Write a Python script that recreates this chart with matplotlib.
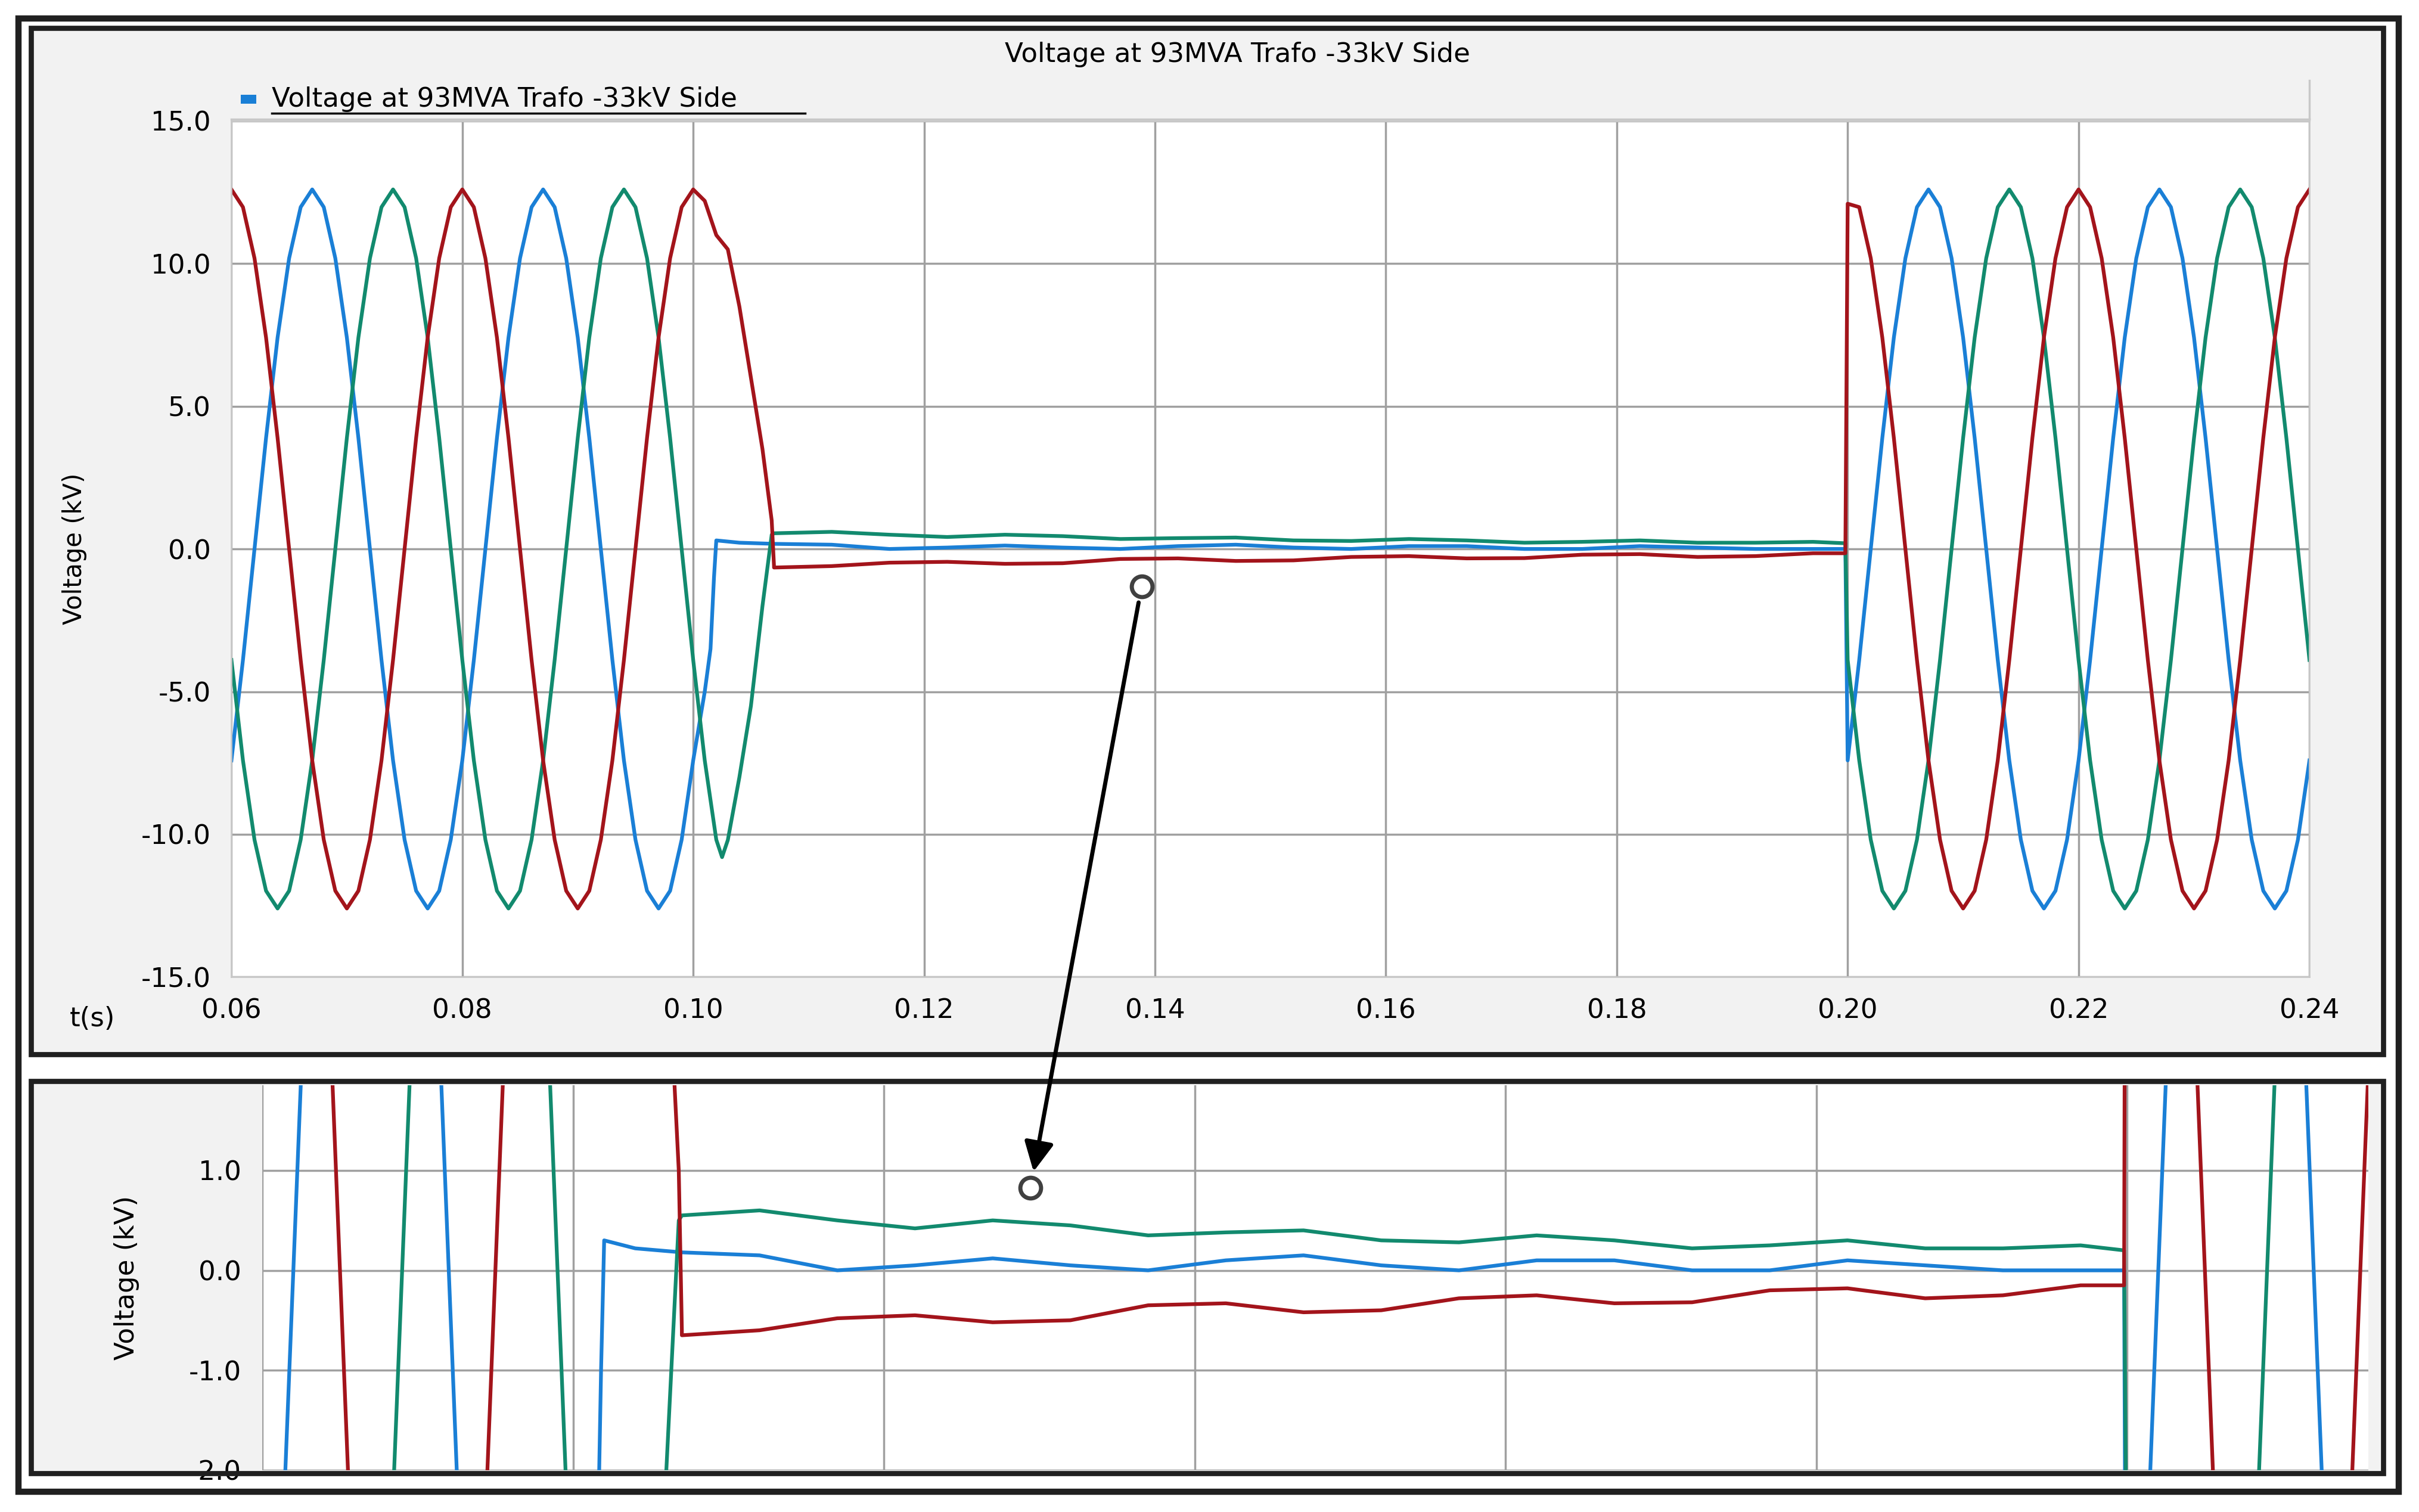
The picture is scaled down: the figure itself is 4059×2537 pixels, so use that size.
import numpy as np
import matplotlib
matplotlib.use('Agg')
from matplotlib import pyplot as plt
from matplotlib.patches import Rectangle, FancyArrowPatch

# waveform samples, 1 ms apart
t_grid = np.round(np.arange(0, 41) * 0.001, 4)

blue_pre = [-7.41, -3.89, 0, 3.89, 7.41, 10.19, 11.98, 12.6, 11.98, 10.19, 7.41, 3.89, 0, -3.89,
            -7.41, -10.19, -11.98, -12.6, -11.98, -10.19, -7.41, -3.89, 0, 3.89, 7.41, 10.19, 11.98,
            12.6, 11.98, 10.19, 7.41, 3.89, 0, -3.89, -7.41, -10.19, -11.98, -12.6, -11.98, -10.19, -7.41]
red_pre = [12.6, 11.98, 10.19, 7.41, 3.89, 0, -3.89, -7.41, -10.19, -11.98, -12.6, -11.98, -10.19,
           -7.41, -3.89, 0, 3.89, 7.41, 10.19, 11.98, 12.6, 11.98, 10.19, 7.41, 3.89, 0, -3.89, -7.41,
           -10.19, -11.98, -12.6, -11.98, -10.19, -7.41, -3.89, 0, 3.89, 7.41, 10.19, 11.98, 12.6]
green_pre = [-3.89, -7.41, -10.19, -11.98, -12.6, -11.98, -10.19, -7.41, -3.89, 0, 3.89, 7.41, 10.19,
             11.98, 12.6, 11.98, 10.19, 7.41, 3.89, 0, -3.89, -7.41, -10.19, -11.98, -12.6, -11.98,
             -10.19, -7.41, -3.89, 0, 3.89, 7.41, 10.19, 11.98, 12.6, 11.98, 10.19, 7.41, 3.89, 0, -3.89]

# fault inception transients
blue_fault_t = [0.101, 0.1015, 0.1018, 0.102, 0.104]
blue_fault_v = [-5.0, -3.5, -1.0, 0.3, 0.22]
red_fault_t = [0.101, 0.102, 0.103, 0.104, 0.105, 0.106, 0.1068, 0.107]
red_fault_v = [12.2, 11.0, 10.5, 8.5, 6.0, 3.5, 1.0, -0.6]
green_fault_t = [0.101, 0.102, 0.1025, 0.103, 0.104, 0.105, 0.106, 0.1068]
green_fault_v = [-7.41, -10.19, -10.8, -10.2, -8.0, -5.5, -2.0, 0.5]

# residual voltage while the fault is on
t_res = [0.107, 0.112, 0.117, 0.122, 0.127, 0.132, 0.137, 0.142, 0.147, 0.152, 0.157, 0.162,
         0.167, 0.172, 0.177, 0.182, 0.187, 0.192, 0.197, 0.1998]
green_res = [0.55, 0.6, 0.5, 0.42, 0.5, 0.45, 0.35, 0.38, 0.4, 0.3, 0.28, 0.35, 0.3, 0.22, 0.25,
             0.3, 0.22, 0.22, 0.25, 0.2]
blue_res = [0.18, 0.15, 0.0, 0.05, 0.12, 0.05, 0.0, 0.1, 0.15, 0.05, 0.0, 0.1, 0.1, 0.0, 0.0, 0.1,
            0.05, 0.0, 0.0, 0.0]
red_res = [-0.65, -0.6, -0.48, -0.45, -0.52, -0.5, -0.35, -0.33, -0.42, -0.4, -0.28, -0.25, -0.33,
           -0.32, -0.2, -0.18, -0.28, -0.25, -0.15, -0.15]

red_post_first = 12.1

pre_t = 0.06 + t_grid
post_t = 0.20 + t_grid

blue_t = np.concatenate([pre_t, blue_fault_t, t_res, post_t])
blue_v = np.concatenate([blue_pre, blue_fault_v, blue_res, blue_pre])
red_t = np.concatenate([pre_t, red_fault_t, t_res, post_t])
red_v = np.concatenate([red_pre, red_fault_v, red_res, [red_post_first] + red_pre[1:]])
green_t = np.concatenate([pre_t, green_fault_t, t_res, post_t])
green_v = np.concatenate([green_pre, green_fault_v, green_res, green_pre])

C_BLUE = '#1a7fd6'
C_GREEN = '#128a6e'
C_RED = '#a3141b'
C_GRID = '#a0a0a0'

fig = plt.figure(figsize=(16.236, 10.148), dpi=250)
fig.patch.set_facecolor('white')


def frac(x0, y0, x1, y1):
    # pixel box on the 1568x975 preview -> figure fractions
    return [x0 / 1568, 1 - y1 / 975, (x1 - x0) / 1568, (y1 - y0) / 975]


for box, lw in [((12, 12, 1555, 962), 3.0), ((20, 18, 1545, 680), 2.5), ((20, 697, 1545, 950), 2.5)]:
    r = frac(*box)
    fig.add_artist(Rectangle((r[0], r[1]), r[2], r[3], transform=fig.transFigure,
                             fill=False, ec='#202020', lw=lw))
for box in [(22, 20, 1543, 678), (22, 699, 1543, 948)]:
    r = frac(*box)
    fig.add_artist(Rectangle((r[0], r[1]), r[2], r[3], transform=fig.transFigure,
                             fc='#f2f2f2', ec='none', zorder=-5))

fig.text(802 / 1568, 1 - 35 / 975, 'Voltage at 93MVA Trafo -33kV Side', ha='center', va='center',
         fontsize=13)
leg = fig.text(176 / 1568, 1 - 64 / 975, 'Voltage at 93MVA Trafo -33kV Side', ha='left', va='center',
               fontsize=13)
fig.add_artist(plt.Line2D([176 / 1568, 522 / 1568], [1 - 73 / 975] * 2, color='k', lw=1))
r = frac(156, 61, 166, 67)
fig.add_artist(Rectangle((r[0], r[1]), r[2], r[3], transform=fig.transFigure, fc=C_BLUE, ec='none'))
fig.add_artist(plt.Line2D([150 / 1568, 1497 / 1568], [1 - 77 / 975] * 2, color='#c8c8c8', lw=1))
fig.add_artist(plt.Line2D([1497 / 1568] * 2, [1 - 52 / 975, 1 - 77 / 975], color='#c8c8c8', lw=1))

# top panel
ax = fig.add_axes(frac(150, 78, 1497, 630))
ax.set_facecolor('white')
ax.plot(blue_t, blue_v, color=C_BLUE, lw=1.8)
ax.plot(green_t, green_v, color=C_GREEN, lw=1.8)
ax.plot(red_t, red_v, color=C_RED, lw=1.8)
ax.set_xlim(0.06, 0.24)
ax.set_ylim(-15, 15)
xt = np.arange(0.06, 0.2401, 0.02)
ax.set_xticks(xt)
ax.set_xticklabels(['%.2f' % v for v in xt])
yt = np.arange(-15, 15.1, 5)
ax.set_yticks(yt)
ax.set_yticklabels(['%.1f' % v for v in yt])
ax.grid(True, color=C_GRID, lw=1)
ax.tick_params(labelsize=13, length=0, pad=10)
ax.set_ylabel('Voltage (kV)', fontsize=12, labelpad=26)
for s in ax.spines.values():
    s.set_color('#c8c8c8')
fig.text(60 / 1568, 1 - 657 / 975, 't(s)', ha='center', va='center', fontsize=13)

# zoomed bottom panel
bx = fig.add_axes(frac(170, 700, 1535, 948))
bx.set_facecolor('white')
bx.plot(blue_t, blue_v, color=C_BLUE, lw=1.8)
bx.plot(green_t, green_v, color=C_GREEN, lw=1.8)
bx.plot(red_t, red_v, color=C_RED, lw=1.8)
bx.set_xlim(0.08, 0.2155)
bx.set_ylim(-1.98, 1.85)
bx.set_xticks(np.arange(0.08, 0.2101, 0.02))
bx.set_xticklabels([])
bx.set_yticks([1.0, 0.0, -1.0, -2.0])
bx.set_yticklabels(['1.0', '0.0', '-1.0', '-2.0'])
bx.grid(True, color=C_GRID, lw=1)
bx.tick_params(labelsize=13, length=0, pad=10)
bx.set_ylabel('Voltage (kV)', fontsize=13, labelpad=24)
for s in bx.spines.values():
    s.set_visible(False)

# arrow linking the two panels
p0 = (740 / 1568, 1 - 378 / 975)
p1 = (668 / 1568, 1 - 766 / 975)
fig.add_artist(FancyArrowPatch(p0, p1, transform=fig.transFigure, arrowstyle='-|>',
                               mutation_scale=30, color='black', lw=2,
                               shrinkA=8, shrinkB=8, zorder=10))
for p in (p0, p1):
    fig.add_artist(plt.Line2D([p[0]], [p[1]], transform=fig.transFigure, marker='o', ms=10,
                              mfc='white', mec='#404040', mew=2, zorder=11))

fig.savefig('out.png', dpi=250)
